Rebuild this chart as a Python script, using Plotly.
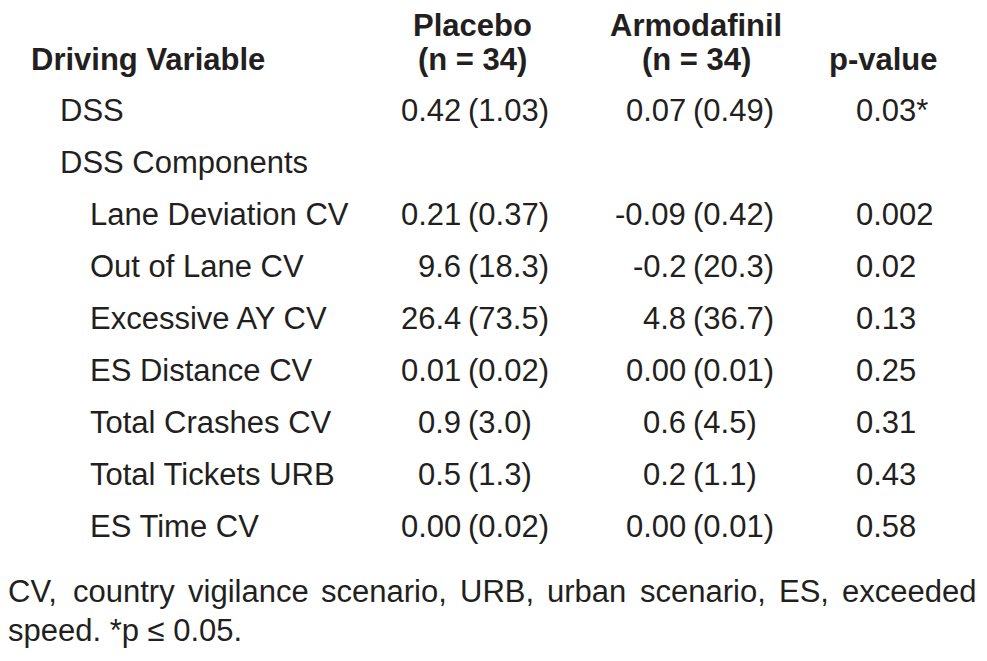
import plotly.graph_objects as go

FONT = "Liberation Sans, Arial, sans-serif"
INK = "#231f20"

variables = ["DSS", "DSS Components", "Lane Deviation CV", "Out of Lane CV",
             "Excessive AY CV", "ES Distance CV", "Total Crashes CV",
             "Total Tickets URB", "ES Time CV"]
levels = [1, 1, 2, 2, 2, 2, 2, 2, 2]
placebo_mean = ["0.42", "", "0.21", "9.6", "26.4", "0.01", "0.9", "0.5", "0.00"]
placebo_sd = ["(1.03)", "", "(0.37)", "(18.3)", "(73.5)", "(0.02)", "(3.0)", "(1.3)", "(0.02)"]
armo_mean = ["0.07", "", "-0.09", "-0.2", "4.8", "0.00", "0.6", "0.2", "0.00"]
armo_sd = ["(0.49)", "", "(0.42)", "(20.3)", "(36.7)", "(0.01)", "(4.5)", "(1.1)", "(0.01)"]
p_values = ["0.03*", "", "0.002", "0.02", "0.13", "0.25", "0.31", "0.43", "0.58"]

header_col0 = "Driving Variable"
header_groups = [("Placebo", "(n = 34)"), ("Armodafinil", "(n = 34)"), ("", "p-value")]
footnote_lines = ["CV, country vigilance scenario, URB, urban scenario, ES, exceeded",
                  "speed. *p \u2264 0.05."]

W, H = 987, 661
OFF = 8  # default body margin of the html page
FS = 31
row0, dy = 110, 52.1
indent = {0: 31, 1: 60, 2: 90}
pl_split, ar_split, p_left = 468, 693, 856
gap = 7
header_centers = [472, 696, 883]
head_y1, head_y2 = 25, 59
foot_left, foot_right = OFF, W - OFF - 3

# Arial / Liberation Sans advance widths (1/1000 em) for justifying the footnote
ADV = {"C": 722, "V": 667, ",": 278, "c": 500, "o": 556, "u": 556, "n": 556,
       "t": 278, "r": 333, "y": 500, "v": 500, "i": 222, "g": 556, "l": 222,
       "a": 556, "e": 556, "s": 500, "U": 722, "R": 722, "B": 667, "b": 556,
       "E": 667, "S": 667, "x": 500, "d": 556}

def text_width(word):
    return sum(ADV.get(ch, 556) for ch in word) * FS / 1000.0

fig = go.Figure()
fig.add_trace(go.Scatter(x=[OFF, W], y=[OFF, H], mode="markers",
                         marker=dict(opacity=0), hoverinfo="skip", showlegend=False))

ann = []
def add(text, x, y, anchor, bold=False):
    ann.append(dict(text=text, x=x, y=y, xref="x", yref="y", xanchor=anchor,
                    yanchor="middle", showarrow=False, borderpad=0, borderwidth=0,
                    font=dict(family=FONT, size=FS, color=INK,
                              weight="bold" if bold else "normal")))

# header
add(header_col0, indent[0], head_y2, "left", True)
for (l1, l2), cx in zip(header_groups, header_centers):
    if l1:
        add(l1, cx, head_y1, "center", True)
    add(l2, cx, head_y2, "center", True)

for i, v in enumerate(variables):
    y = row0 + i * dy
    add(v, indent[levels[i]], y, "left")
    if placebo_mean[i]:
        add(placebo_mean[i], pl_split - gap, y, "right")
        add(placebo_sd[i], pl_split, y, "left")
    if armo_mean[i]:
        add(armo_mean[i], ar_split - gap, y, "right")
        add(armo_sd[i], ar_split, y, "left")
    if p_values[i]:
        add(p_values[i], p_left, y, "left")

# footnote: first line justified to the full width, last line left-aligned
words = footnote_lines[0].split(" ")
widths = [text_width(w) for w in words]
space = (foot_right - foot_left - sum(widths)) / (len(words) - 1)
x = foot_left
for w, wd in zip(words, widths):
    add(w, x, 591, "left")
    x += wd + space
add(footnote_lines[1], foot_left, 630, "left")

fig.update_layout(
    width=W - OFF, height=H - OFF, margin=dict(l=0, r=0, t=0, b=0),
    paper_bgcolor="white", plot_bgcolor="white",
    xaxis=dict(range=[OFF, W], visible=False, fixedrange=True),
    yaxis=dict(range=[H, OFF], visible=False, fixedrange=True),
    annotations=ann,
)
fig.write_html("out.html", config={"displayModeBar": False})
